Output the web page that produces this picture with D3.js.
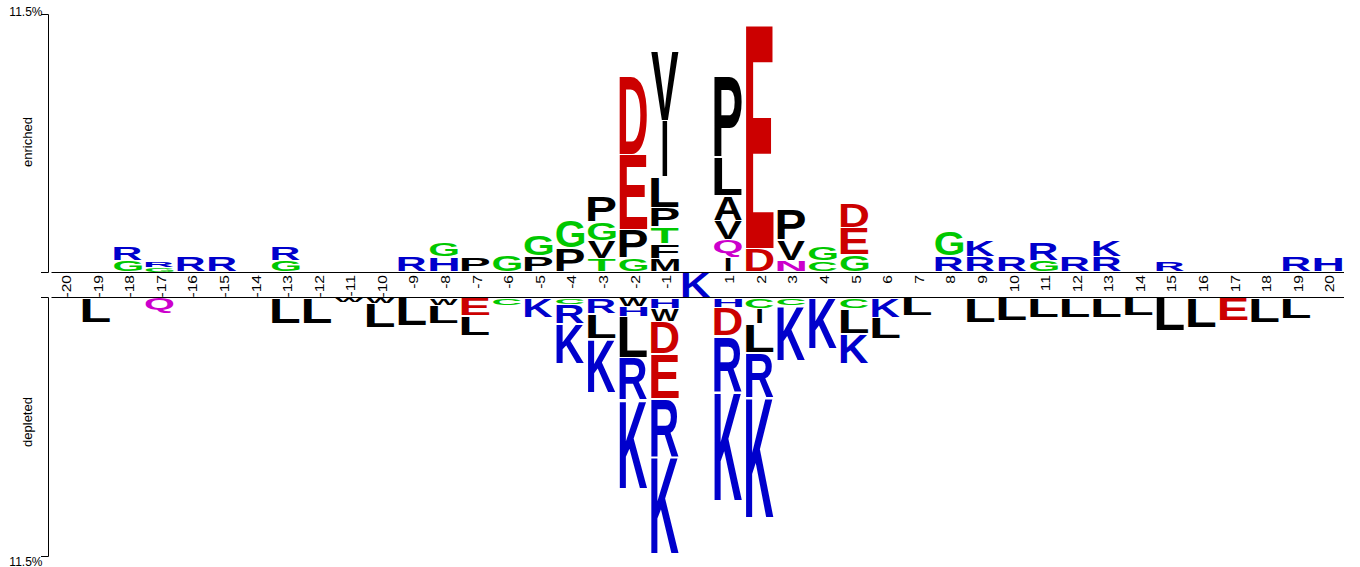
<!DOCTYPE html>
<html>
<head>
<meta charset="utf-8">
<script src="https://cdn.jsdelivr.net/npm/d3@7"></script>
<style>
  html, body { margin: 0; padding: 0; background: #fff; }
  svg { display: block; }
</style>
</head>
<body>
<svg id="chart" width="1360" height="567"></svg>
<script>
// positions around the fixed residue
const positions = [-20, -19, -18, -17, -16, -15, -14, -13, -12, -11, -10, -9, -8, -7, -6, -5, -4, -3, -2, -1,
  0, 1, 2, 3, 4, 5, 6, 7, 8, 9, 10, 11, 12, 13, 14, 15, 16, 17, 18, 19, 20];
const fixedResidue = "K";

// enriched residues per position, listed from the baseline upwards
const upResidues = ["", "", "GR", "GR", "R", "R", "", "GR", "", "", "", "R", "HG", "P", "G", "PG", "PG", "TVGP", "GPED", "MFTPLIV",
  "", "IQVALP", "DE", "NVP", "CG", "GED", "", "", "RG", "RK", "R", "GR", "R", "RK", "", "R", "", "", "", "R", "H"];
// percent, same order
const upValues = [[], [], [0.51, 0.65], [0.18, 0.27], [0.67], [0.67], [], [0.51, 0.65], [], [], [], [0.67], [0.67, 0.67],
  [0.67], [0.78], [0.69, 0.92], [1.05, 1.23], [0.58, 0.78, 0.85, 1.19], [0.60, 1.28, 3.36, 3.49],
  [0.58, 0.67, 0.74, 0.85, 1.39, 2.53, 3.09],
  [], [0.65, 0.78, 0.85, 1.10, 1.70, 3.67], [1.03, 9.98], [0.51, 0.92, 1.39], [0.49, 0.67], [0.76, 1.19, 1.10],
  [], [], [0.69, 1.10], [0.69, 0.78], [0.67], [0.51, 0.83], [0.67], [0.69, 0.78], [], [0.49], [], [], [], [0.67], [0.67]];

// depleted residues per position, listed from the baseline downwards
const downResidues = ["", "L", "", "Q", "", "", "", "L", "L", "W", "WL", "L", "WL", "EL", "C", "K", "CRK", "RLK", "WHLRK", "HWDERK",
  "", "HDRK", "CILRK", "CK", "K", "CLK", "KL", "L", "", "L", "L", "L", "L", "L", "L", "L", "L", "E", "L", "L", ""];
const downValues = [[], [1.11], [], [0.71], [], [], [], [1.16], [1.16], [0.22], [0.25, 1.09], [1.25], [0.36, 0.80],
  [0.80, 0.89], [0.36], [0.89], [0.31, 0.85, 1.78], [0.71, 1.11, 2.41], [0.38, 0.45, 1.83, 1.89, 3.97],
  [0.49, 0.56, 1.45, 1.98, 2.59, 4.35],
  [], [0.42, 1.27, 2.47, 4.88], [0.47, 0.69, 1.27, 2.01, 5.37], [0.36, 2.45], [2.27], [0.47, 1.11, 1.36],
  [0.87, 0.96], [0.80], [], [1.11], [1.03], [0.89], [0.89], [0.89], [0.80], [1.47], [1.34], [1.03], [1.11], [0.94], []];

const maxPercent = 11.5;

const colorOf = function (ch) {
  if ("KRH".includes(ch)) return "#0000cc";
  if ("DE".includes(ch)) return "#cc0000";
  if ("GSTCY".includes(ch)) return "#00c800";
  if ("NQ".includes(ch)) return "#cc00cc";
  return "#000000";
};

const FONT = "'Liberation Sans', Arial, Helvetica, sans-serif";
const svg = d3.select("#chart");

const x = d3.scaleBand().domain(positions).range([49, 1344]);
const yUp = d3.scaleLinear().domain([0, maxPercent]).range([272, 14]);
const yDown = d3.scaleLinear().domain([0, maxPercent]).range([298, 556]);

// ink metrics from a canvas so glyphs can be stretched into their boxes
const ctx = document.createElement("canvas").getContext("2d");
ctx.font = "bold 100px " + FONT;
const inkCache = {};
function ink(ch) {
  if (!inkCache[ch]) {
    const m = ctx.measureText(ch);
    inkCache[ch] = { l: m.actualBoundingBoxLeft, r: m.actualBoundingBoxRight,
      a: m.actualBoundingBoxAscent, d: m.actualBoundingBoxDescent };
  }
  return inkCache[ch];
}

const letterW = x.bandwidth() * 0.88;
function drawLetter(g, ch, cx, top, h) {
  const w = ch === "I" ? 5 : letterW;
  const m = ink(ch);
  const sx = w / (m.l + m.r), sy = h / (m.a + m.d);
  g.append("text")
    .text(ch)
    .attr("font-family", FONT)
    .attr("font-weight", "bold")
    .attr("font-size", 100)
    .attr("fill", colorOf(ch))
    .attr("transform", "translate(" + (cx - w / 2 + m.l * sx) + "," + (top + m.a * sy) + ") scale(" + sx + "," + sy + ")");
}

const logo = svg.append("g").attr("class", "logo");

positions.forEach(function (p, i) {
  const cx = x(p) + x.bandwidth() / 2;
  // enriched stack
  let acc = 0;
  upResidues[i].split("").forEach(function (ch, j) {
    const v = upValues[i][j];
    const y0 = yUp(acc), y1 = yUp(acc + v);
    const pad = Math.min(0.8, (y0 - y1) * 0.1);
    drawLetter(logo, ch, cx, y1 + pad, (y0 - y1) - 2 * pad);
    acc += v;
  });
  // depleted stack
  acc = 0;
  downResidues[i].split("").forEach(function (ch, j) {
    const v = downValues[i][j];
    const y0 = yDown(acc), y1 = yDown(acc + v);
    const pad = Math.min(0.8, (y1 - y0) * 0.1);
    drawLetter(logo, ch, cx, y0 + pad, (y1 - y0) - 2 * pad);
    acc += v;
  });
});

// fixed residue in the centre strip
drawLetter(logo, fixedResidue, x(0) + x.bandwidth() / 2, 273, 24);

// baselines
svg.append("line").attr("x1", 51.5).attr("x2", 1344).attr("y1", 272.5).attr("y2", 272.5).attr("stroke", "#000");
svg.append("line").attr("x1", 51.5).attr("x2", 1344).attr("y1", 297.5).attr("y2", 297.5).attr("stroke", "#000");

// position labels
svg.append("g").selectAll("text")
  .data(positions.filter(function (p) { return p !== 0; }))
  .enter()
  .append("text")
  .attr("transform", function (p) { return "translate(" + (x(p) + x.bandwidth() / 2 + 2) + ",275) rotate(-90) scale(1.3,1)"; })
  .attr("text-anchor", "end")
  .attr("dy", "0.35em")
  .attr("font-family", FONT)
  .attr("font-size", 12)
  .attr("fill", "#000")
  .text(function (p) { return p; });

// y axes
const upAxis = svg.append("g").attr("transform", "translate(48,0)")
  .call(d3.axisLeft(yUp).tickValues([]).tickSizeOuter(7));
const downAxis = svg.append("g").attr("transform", "translate(48,0)")
  .call(d3.axisLeft(d3.scaleLinear().domain([0, maxPercent]).range([297, 556])).tickValues([]).tickSizeOuter(7));
svg.selectAll(".domain").attr("stroke", "#000");

svg.append("text").attr("x", 42.5).attr("y", 16).attr("text-anchor", "end")
  .attr("font-family", FONT).attr("font-size", 12).text(maxPercent + "%");
svg.append("text").attr("x", 42.5).attr("y", 566).attr("text-anchor", "end")
  .attr("font-family", FONT).attr("font-size", 12).text(maxPercent + "%");

svg.append("text").attr("transform", "translate(32,142) rotate(-90)").attr("text-anchor", "middle")
  .attr("font-family", FONT).attr("font-size", 13).text("enriched");
svg.append("text").attr("transform", "translate(32,422) rotate(-90)").attr("text-anchor", "middle")
  .attr("font-family", FONT).attr("font-size", 13).text("depleted");
</script>
</body>
</html>
